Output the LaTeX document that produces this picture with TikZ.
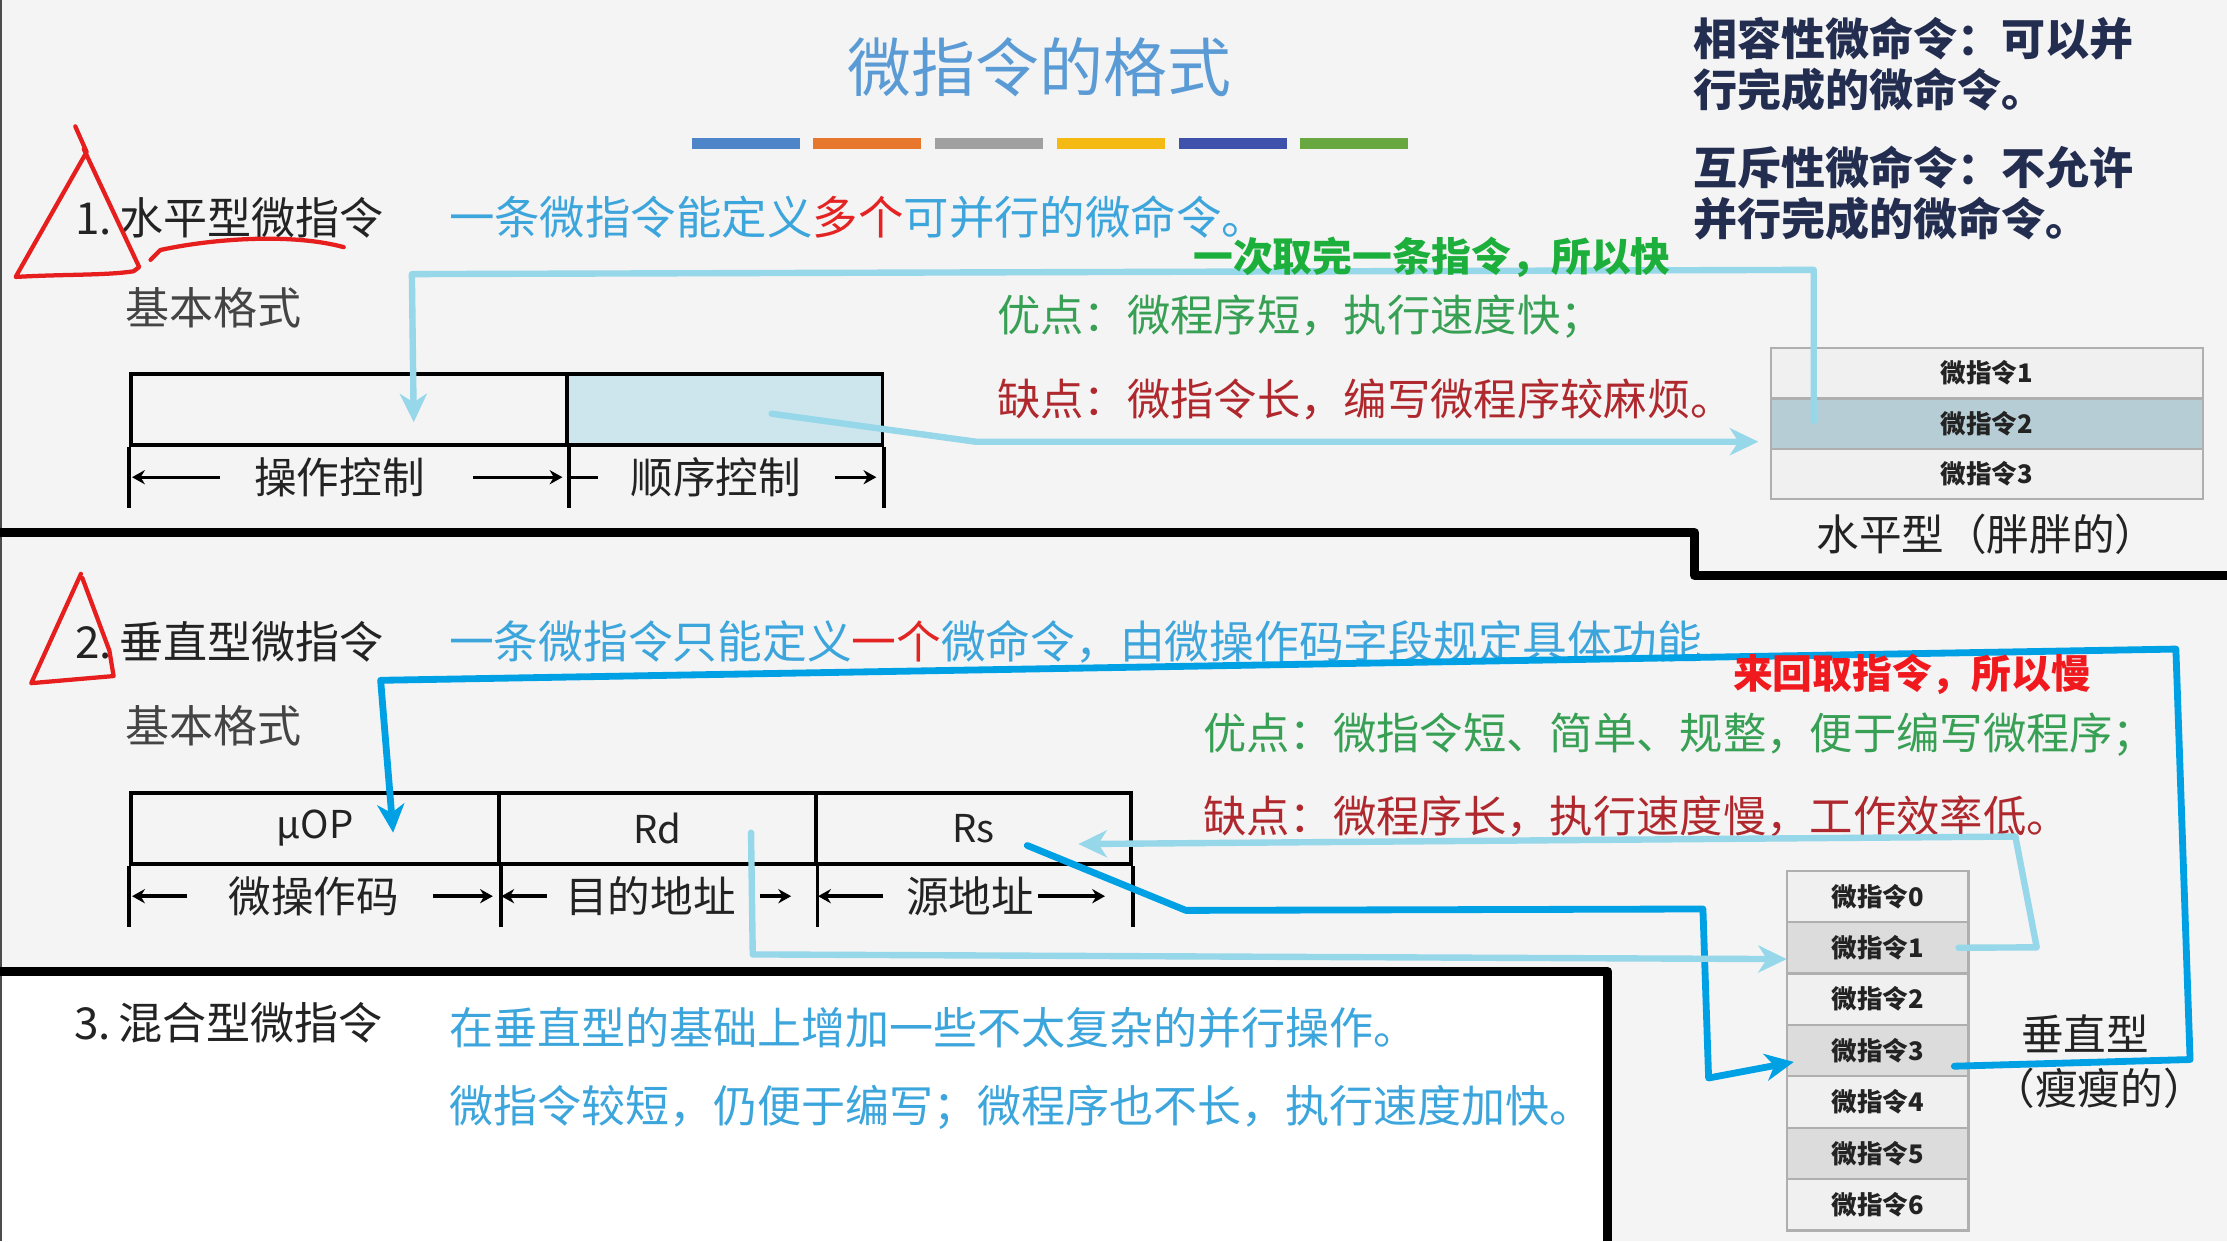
\documentclass[tikz,border=0pt]{standalone}
\usepackage{fontspec}
\setmainfont{Noto Sans CJK SC}
\usetikzlibrary{arrows.meta, positioning}

\newcommand{\fsz}[1]{\fontsize{#1}{#1}\selectfont}

\definecolor{titleblue}{RGB}{91,155,213}
\definecolor{barA}{RGB}{78,132,200}
\definecolor{barB}{RGB}{232,119,46}
\definecolor{barC}{RGB}{160,160,160}
\definecolor{barD}{RGB}{245,185,20}
\definecolor{barE}{RGB}{62,82,172}
\definecolor{barF}{RGB}{105,168,65}
\definecolor{noteink}{RGB}{35,45,80}
\definecolor{ink}{RGB}{35,35,35}
\definecolor{hlblue}{RGB}{60,165,220}
\definecolor{hlred}{RGB}{228,35,35}
\definecolor{goodgreen}{RGB}{55,160,85}
\definecolor{badred}{RGB}{175,40,45}
\definecolor{notegreen}{RGB}{28,175,60}
\definecolor{notered}{RGB}{240,25,30}
\definecolor{lineblue}{RGB}{150,215,233}
\definecolor{linedark}{RGB}{0,160,228}
\definecolor{penred}{RGB}{230,30,30}
\definecolor{cellblue}{RGB}{205,230,237}
\definecolor{rowblue}{RGB}{183,205,213}
\definecolor{rowlight}{RGB}{240,240,240}
\definecolor{rowdark}{RGB}{220,220,220}
\definecolor{cellgray}{RGB}{175,175,175}
\definecolor{slidebg}{RGB}{244,244,244}

\begin{document}
\begin{tikzpicture}[x=1pt, y=-1pt,
        every node/.style={inner sep=0pt},
        % Text Styles
        heading/.style={anchor=west, font=\fsz{31}, text=ink},
        bluetext/.style={anchor=west, font=\fsz{31.5}, text=hlblue},
        note/.style={anchor=west, align=left, font=\fontsize{31}{36}\selectfont\bfseries, text=noteink},
        pro/.style={anchor=west, font=\fsz{30.5}, text=goodgreen},
        con/.style={anchor=west, font=\fsz{30.5}, text=badred},
        remark/.style={anchor=west, font=\fsz{28}\bfseries},
        caption/.style={font=\fsz{30}, text=ink},
        % Field and Row Styles
        field/.style={draw=black, line width=2.6, minimum height=50pt, anchor=north west, font=\fsz{27}, text=ink},
        fieldlbl/.style={font=\fsz{30}, text=ink},
        tabarr/.style={-{Stealth[length=9pt, width=10pt]}, line width=2.4},
        mrow/.style={draw=cellgray, line width=1.6, outer sep=0pt, minimum width=304pt, minimum height=35.5pt, anchor=north west, font=\fsz{18}\bfseries, text=ink},
        vrow/.style={mrow, minimum width=128pt, minimum height=36.2pt},
        % Line Styles
        litearr/.style={draw=lineblue, line width=4.5, line join=round, line cap=round},
        deeparr/.style={draw=linedark, line width=4.8, line join=round, line cap=round},
        arrowtip/.style={-{Stealth[length=20pt, width=19pt, inset=6pt]}},
        redpen/.style={draw=penred, line width=3, line cap=round, line join=round},
        divider/.style={line width=6.5, line join=round}
    ]

    % --- Background ---
    \useasboundingbox (0,0) rectangle (1568,874);
    \fill[slidebg] (0,0) rectangle (1568,874);
    \fill[white] (0,684) rectangle (1132,874);
    \draw[black!70, line width=1.5] (0.75,0) -- (0.75,874);
    \draw[divider] (0,375) -- (1193,375) -- (1193,405) -- (1568,405);
    \draw[divider] (0,684) -- (1132,684) -- (1132,874);

    % --- Title ---
    \node[font=\fsz{45}, text=titleblue] (title) at (732,47) {微指令的格式};
    \foreach \c [count=\i from 0] in {barA,barB,barC,barD,barE,barF}
        \fill[\c] (487+\i*85.7,97) rectangle ++(76,8);

    % --- Side notes ---
    \node[note] (compat) at (1192,45) {相容性微命令：可以并\\行完成的微命令。};
    \node[note] (exclus) at (1192,136) {互斥性微命令：不允许\\并行完成的微命令。};

    % --- 1. Horizontal ---
    \node[heading] (hnum) at (53,153) {1.\,水平型微指令};
    \node[bluetext, font=\fsz{32}] (hdef) at (316,153) {一条微指令能定义\textcolor{hlred}{多个}可并行的微命令。};
    \node[heading, text=ink!85] (hbasic) at (88,217) {基本格式};
    \node[pro] (hpro) at (702,223) {优点：微程序短，执行速度快；};
    \node[con] (hcon) at (702,281) {缺点：微指令长，编写微程序较麻烦。};

    \node[field, minimum width=307pt] (opc) at (91,262) {};
    \node[field, minimum width=222pt, fill=cellblue] (seqc) at (398,262) {};
    \foreach \n in {opc.south west, opc.south east, seqc.south east}
        \draw[line width=2.6] (\n) -- ++(0,43);
    \node[fieldlbl] (opclbl) at (239,336) {操作控制};
    \node[fieldlbl] (seqlbl) at (504,336) {顺序控制};
    \draw[tabarr] (155,336) -- (93,336);
    \draw[tabarr] (333,336) -- (396,336);
    \draw[line width=2.4] (400,336) -- (421,336);
    \draw[tabarr] (588,336) -- (617,336);

    \node[mrow, fill=rowlight] (h1) at (1247,245) {微指令1};
    \node[mrow, fill=rowblue, below=0pt of h1] (h2) {微指令2};
    \node[mrow, fill=rowlight, below=0pt of h2] (h3) {微指令3};
    \node[caption, below=10pt of h3] (hcap) {水平型（胖胖的）};

    % --- 2. Vertical ---
    \node[heading] (vnum) at (53,452) {2.\,垂直型微指令};
    \node[bluetext] (vdef) at (316,452) {一条微指令只能定义\textcolor{hlred}{一个}微命令，由微操作码字段规定具体功能};
    \node[heading, text=ink!85] (vbasic) at (88,511) {基本格式};
    \node[pro] (vpro) at (847,517) {优点：微指令短、简单、规整，便于编写微程序；};
    \node[con] (vcon) at (847,575) {缺点：微程序长，执行速度慢，工作效率低。};

    \node[field, minimum width=259pt] (uop) at (91,557) {μOP};
    \node[field, minimum width=223pt] (rd) at (350,557) {Rd};
    \node[field, minimum width=222pt] (rs) at (573,557) {Rs};
    \foreach \n in {uop.south west, uop.south east, rd.south east, rs.south east}
        \draw[line width=2.6] (\n) -- ++(0,43);
    \node[fieldlbl] (uoplbl) at (221,631) {微操作码};
    \node[fieldlbl] (rdlbl) at (458,631) {目的地址};
    \node[fieldlbl] (rslbl) at (683,631) {源地址};
    \draw[tabarr] (132,631) -- (93,631);
    \draw[tabarr] (305,631) -- (347,631);
    \draw[tabarr] (385,631) -- (353,631);
    \draw[tabarr] (535,631) -- (557,631);
    \draw[tabarr] (622,631) -- (576,631);
    \draw[tabarr] (731,631) -- (778,631);

    \node[vrow, fill=rowlight] (v0) at (1258,613) {微指令0};
    \foreach \i/\f [remember=\i as \j (initially 0)] in {1/rowdark,2/rowlight,3/rowdark,4/rowlight,5/rowdark,6/rowlight}
        \node[vrow, fill=\f, below=0pt of v\j] (v\i) {微指令\i};
    \node[caption] (vcap) at (1468,728) {垂直型};
    \node[caption] (vcapb) at (1478,766) {（瘦瘦的）};

    % --- 3. Mixed ---
    \node[heading] (mnum) at (52,720) {3.\,混合型微指令};
    \node[bluetext, font=\fsz{31}] (mdef) at (316,724) {在垂直型的基础上增加一些不太复杂的并行操作。};
    \node[bluetext, font=\fsz{31}] (mdefb) at (316,780) {微指令较短，仍便于编写；微程序也不长，执行速度加快。};

    % --- Connectors ---
    \coordinate (a1) at (1277,190);
    \coordinate (a2) at (290,193);
    \draw[litearr, arrowtip] ([shift={(30,-1.5)}]h2.west) -- (a1) -- (a2) -- ([shift={(45.5,9)}]opc.center);
    \coordinate (b1) at (687,311);
    \draw[litearr, arrowtip] ([shift={(33,3)}]seqc.center) -- (b1) -- ([shift={(-9,-5)}]h2.south west);

    \coordinate (c1) at (1542,746);
    \coordinate (c2) at (1532,457);
    \coordinate (c3) at (268,479);
    \draw[deeparr, arrowtip] ([shift={(-10,11)}]v3.east) -- (c1) -- (c2) -- (c3) -- ([shift={(55,3)}]uop.center);
    \coordinate (d1) at (835,641);
    \coordinate (d2) at (1199,640);
    \coordinate (d3) at (1203,759);
    \draw[deeparr, arrowtip] ([shift={(38,12)}]rs.center) -- (d1) -- (d2) -- (d3) -- ([shift={(5,8)}]v3.west);
    \coordinate (e1) at (530,672);
    \draw[litearr, arrowtip] ([shift={(66,3)}]rd.center) -- (e1) -- ([shift={(0,8)}]v1.west);
    \coordinate (f1) at (1434,667);
    \coordinate (f2) at (1419,589);
    \draw[litearr, arrowtip] ([shift={(-7,0)}]v1.east) -- (f1) -- (f2) -- ([shift={(74,11)}]rs.center);

    % --- Remarks on top ---
    \node[remark, text=notegreen] (fastnote) at (840,181) {一次取完一条指令，所以快};
    \node[remark, text=notered] (slownote) at (1220,475) {来回取指令，所以慢};

    % --- Red pen marks ---
    \draw[redpen] (53,89) -- (61,107) -- (11,195) .. controls (45,193) and (75,194) .. (94,191) -- (98,188) -- (59,105);
    \draw[redpen] (106,183) -- (113,176) .. controls (150,168) and (205,164) .. (242,174);
    \draw[redpen] (57,404) -- (22,481) -- (80,476) -- (77,458) -- (58,407);

\end{tikzpicture}
\end{document}
